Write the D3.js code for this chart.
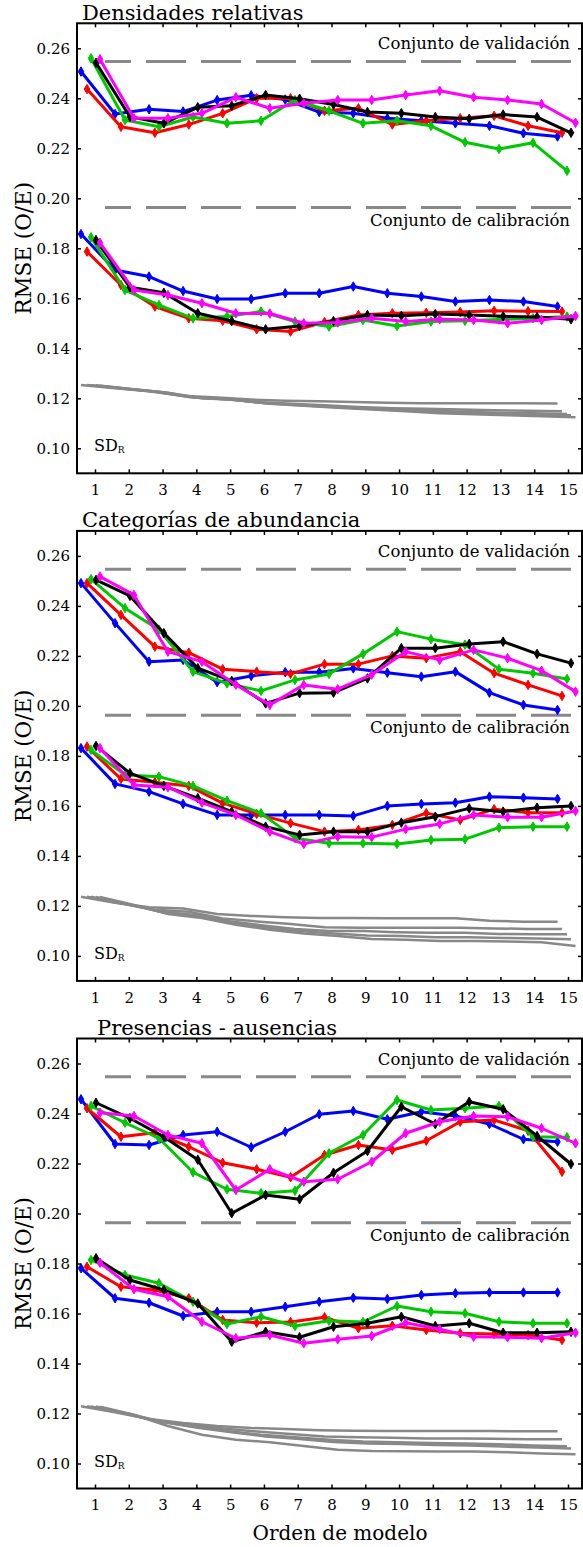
<!DOCTYPE html>
<html>
<head>
<meta charset="utf-8">
<script src="https://cdn.jsdelivr.net/npm/d3@7"></script>
<style>
body { margin: 0; background: #fff; }
svg { display: block; }
</style>
</head>
<body>
<div id="chart"></div>
<script>
// Model orders on the x axis
var models = d3.range(1, 16);
var yTicks = [0.10, 0.12, 0.14, 0.16, 0.18, 0.20, 0.22, 0.24, 0.26];
var panelTitles = ["Densidades relativas", "Categorías de abundancia", "Presencias - ausencias"];
var refValidation = 0.2547;
var refCalibration = 0.1963;

// series order: blue, red, green, black, magenta
var valDens = [
  [0.2507,0.2337,0.2356,0.2347,0.2393,0.2412,0.2395,0.2345,0.2340,0.2320,0.2310,0.2300,0.2290,0.2260,0.2247],
  [0.2437,0.2286,0.2262,0.2295,0.2340,0.2400,0.2400,0.2350,0.2360,0.2295,0.2310,0.2320,0.2330,0.2290,0.2262],
  [0.2560,0.2313,0.2286,0.2325,0.2300,0.2310,0.2393,0.2350,0.2300,0.2310,0.2290,0.2224,0.2197,0.2222,0.2110],
  [0.2542,0.2326,0.2300,0.2364,0.2370,0.2413,0.2398,0.2375,0.2345,0.2340,0.2325,0.2318,0.2335,0.2325,0.2262],
  [0.2556,0.2320,0.2320,0.2340,0.2404,0.2360,0.2380,0.2393,0.2393,0.2413,0.2430,0.2404,0.2393,0.2377,0.2302]
];
var calDens = [
  [0.1857,0.1713,0.1687,0.1629,0.1597,0.1597,0.1620,0.1620,0.1647,0.1620,0.1607,0.1587,0.1593,0.1587,0.1567],
  [0.1787,0.1653,0.1567,0.1520,0.1510,0.1476,0.1467,0.1505,0.1533,0.1540,0.1542,0.1545,0.1550,0.1548,0.1547],
  [0.1844,0.1633,0.1573,0.1520,0.1527,0.1547,0.1507,0.1487,0.1513,0.1489,0.1507,0.1510,0.1515,0.1520,0.1527],
  [0.1833,0.1644,0.1622,0.1540,0.1509,0.1476,0.1489,0.1509,0.1533,0.1530,0.1537,0.1533,0.1528,0.1525,0.1516],
  [0.1822,0.1633,0.1613,0.1580,0.1540,0.1539,0.1500,0.1503,0.1520,0.1507,0.1516,0.1513,0.1500,0.1513,0.1529]
];
var sdDens = [
  [0.1253,0.1240,0.1228,0.1210,0.1203,0.1195,0.1190,0.1188,0.1185,0.1182,0.1180,0.1180,0.1180,0.1180,0.1179],
  [0.1253,0.1240,0.1226,0.1205,0.1198,0.1185,0.1178,0.1172,0.1165,0.1160,0.1158,0.1155,0.1152,0.1150,0.1148],
  [0.1252,0.1238,0.1225,0.1203,0.1196,0.1182,0.1175,0.1168,0.1160,0.1155,0.1150,0.1146,0.1142,0.1140,0.1137],
  [0.1252,0.1237,0.1224,0.1202,0.1195,0.1180,0.1172,0.1165,0.1158,0.1152,0.1146,0.1142,0.1138,0.1135,0.1132],
  [0.1250,0.1236,0.1222,0.1200,0.1193,0.1178,0.1170,0.1162,0.1155,0.1148,0.1140,0.1136,0.1132,0.1128,0.1124]
];

var valCat = [
  [0.2491,0.2331,0.2177,0.2184,0.2095,0.2120,0.2135,0.2135,0.2150,0.2133,0.2117,0.2137,0.2053,0.2004,0.1984],
  [0.2491,0.2364,0.2237,0.2213,0.2147,0.2137,0.2128,0.2167,0.2167,0.2200,0.2191,0.2217,0.2131,0.2084,0.2040],
  [0.2507,0.2391,0.2305,0.2137,0.2090,0.2060,0.2104,0.2128,0.2208,0.2297,0.2267,0.2245,0.2147,0.2131,0.2108],
  [0.2504,0.2440,0.2291,0.2151,0.2100,0.2010,0.2051,0.2053,0.2110,0.2231,0.2231,0.2248,0.2257,0.2208,0.2171],
  [0.2517,0.2444,0.2217,0.2177,0.2085,0.2004,0.2084,0.2067,0.2125,0.2217,0.2184,0.2224,0.2191,0.2141,0.2057]
];
var calCat = [
  [0.1831,0.1688,0.1657,0.1608,0.1564,0.1564,0.1564,0.1564,0.1560,0.1600,0.1608,0.1613,0.1637,0.1633,0.1628],
  [0.1837,0.1708,0.1695,0.1680,0.1611,0.1568,0.1531,0.1497,0.1504,0.1524,0.1571,0.1544,0.1587,0.1573,0.1573],
  [0.1824,0.1724,0.1717,0.1680,0.1621,0.1571,0.1471,0.1451,0.1451,0.1448,0.1464,0.1467,0.1513,0.1517,0.1517],
  [0.1840,0.1731,0.1680,0.1631,0.1577,0.1517,0.1484,0.1497,0.1497,0.1533,0.1557,0.1590,0.1577,0.1593,0.1600],
  [0.1831,0.1684,0.1675,0.1613,0.1564,0.1497,0.1448,0.1477,0.1475,0.1507,0.1528,0.1564,0.1555,0.1555,0.1580]
];
var sdCat = [
  [0.1237,0.1213,0.1195,0.1190,0.1168,0.1160,0.1155,0.1152,0.1152,0.1151,0.1151,0.1151,0.1141,0.1137,0.1137],
  [0.1237,0.1210,0.1185,0.1177,0.1150,0.1138,0.1128,0.1115,0.1113,0.1113,0.1113,0.1113,0.1110,0.1108,0.1108],
  [0.1237,0.1208,0.1178,0.1165,0.1140,0.1123,0.1108,0.1100,0.1100,0.1095,0.1093,0.1093,0.1088,0.1087,0.1087],
  [0.1236,0.1206,0.1172,0.1158,0.1132,0.1115,0.1100,0.1090,0.1082,0.1080,0.1075,0.1075,0.1072,0.1070,0.1067],
  [0.1236,0.1204,0.1168,0.1152,0.1125,0.1105,0.1090,0.1080,0.1068,0.1065,0.1060,0.1060,0.1058,0.1055,0.1040]
];

var valPres = [
  [0.2457,0.2278,0.2274,0.2314,0.2327,0.2265,0.2327,0.2397,0.2410,0.2377,0.2407,0.2390,0.2358,0.2297,0.2287],
  [0.2421,0.2307,0.2323,0.2267,0.2203,0.2177,0.2145,0.2234,0.2274,0.2254,0.2291,0.2367,0.2374,0.2331,0.2167],
  [0.2430,0.2363,0.2301,0.2165,0.2097,0.2081,0.2091,0.2241,0.2314,0.2454,0.2414,0.2421,0.2430,0.2307,0.2305],
  [0.2443,0.2381,0.2307,0.2215,0.2001,0.2074,0.2057,0.2163,0.2250,0.2427,0.2358,0.2447,0.2417,0.2310,0.2198],
  [0.2403,0.2390,0.2314,0.2281,0.2094,0.2177,0.2127,0.2137,0.2207,0.2321,0.2367,0.2390,0.2387,0.2341,0.2281]
];
var calPres = [
  [0.1781,0.1661,0.1643,0.1590,0.1607,0.1607,0.1627,0.1647,0.1663,0.1658,0.1674,0.1681,0.1684,0.1684,0.1684],
  [0.1787,0.1707,0.1694,0.1661,0.1574,0.1563,0.1566,0.1585,0.1541,0.1551,0.1534,0.1521,0.1518,0.1514,0.1494],
  [0.1814,0.1754,0.1721,0.1647,0.1558,0.1587,0.1550,0.1571,0.1566,0.1630,0.1607,0.1601,0.1567,0.1561,0.1561],
  [0.1821,0.1734,0.1694,0.1640,0.1487,0.1527,0.1505,0.1547,0.1561,0.1587,0.1550,0.1561,0.1523,0.1523,0.1527],
  [0.1803,0.1697,0.1667,0.1567,0.1501,0.1514,0.1481,0.1497,0.1510,0.1563,0.1537,0.1507,0.1505,0.1501,0.1523]
];
var sdPres = [
  [0.1229,0.1205,0.1178,0.1162,0.1150,0.1142,0.1138,0.1133,0.1131,0.1130,0.1130,0.1130,0.1130,0.1129,0.1129],
  [0.1229,0.1203,0.1173,0.1155,0.1140,0.1128,0.1118,0.1108,0.1105,0.1103,0.1100,0.1100,0.1099,0.1097,0.1097],
  [0.1228,0.1200,0.1168,0.1148,0.1130,0.1115,0.1105,0.1095,0.1088,0.1085,0.1082,0.1080,0.1077,0.1072,0.1069],
  [0.1228,0.1198,0.1165,0.1143,0.1125,0.1108,0.1098,0.1086,0.1080,0.1078,0.1074,0.1072,0.1068,0.1064,0.1060],
  [0.1227,0.1195,0.1150,0.1115,0.1095,0.1085,0.1070,0.1055,0.1050,0.1049,0.1048,0.1048,0.1045,0.1040,0.1037]
];

// Styling
var colors = ["#0000ff", "#ff0000", "#00c800", "#000000", "#ff00ff"];
var dodge = [[-14, -10.5], [-8, -6], [-4, -1], [1, 3], [5, 7.5]]; // px shift at model 1 / 15
var font = "'DejaVu Serif', serif";
var W = 583, H = 1547;
var left = 77, right = 582;

var svg = d3.select("#chart").append("svg")
    .attr("width", W)
    .attr("height", H);

var panels = [
  {title: panelTitles[0], val: valDens, cal: calDens, sd: sdDens, titleX: 82},
  {title: panelTitles[1], val: valCat, cal: calCat, sd: sdCat, titleX: 82},
  {title: panelTitles[2], val: valPres, cal: calPres, sd: sdPres, titleX: 97}
];

var x = d3.scaleLinear().domain([1, 15]).range([95, 568]);

function styleAxis(g) {
    g.select(".domain").remove();
    g.selectAll(".tick line").attr("stroke", "#000").attr("stroke-width", 1.5);
    g.selectAll("text").attr("font-family", font).attr("font-size", 15).attr("fill", "#000");
}

panels.forEach(function(p, k) {
    var bottom = 473.3 + 507.6 * k;
    var top = bottom - 450;
    var y = d3.scaleLinear().domain([0.09, 0.27]).range([bottom, top]);
    var g = svg.append("g");

    // Gray SD lines
    p.sd.forEach(function(s, si) {
        var xs = d3.scaleLinear().domain([1, 15]).range([x(1) + dodge[si][0], x(15) + dodge[si][1]]);
        g.append("path")
            .datum(s)
            .attr("fill", "none")
            .attr("stroke", "#888")
            .attr("stroke-width", 2.5)
            .attr("stroke-linejoin", "round")
            .attr("d", d3.line().x(function(d, i) { return xs(models[i]); }).y(function(d) { return y(d); }));
    });

    // Reference dashed lines
    [refValidation, refCalibration].forEach(function(v) {
        g.append("line")
            .attr("x1", 571).attr("x2", 105)
            .attr("y1", y(v)).attr("y2", y(v))
            .attr("stroke", "#888")
            .attr("stroke-width", 3)
            .attr("stroke-dasharray", "40,15");
    });

    // Coloured series
    [p.cal, p.val].forEach(function(set) {
        set.forEach(function(s, si) {
            var xs = d3.scaleLinear().domain([1, 15]).range([x(1) + dodge[si][0], x(15) + dodge[si][1]]);
            var sg = g.append("g");
            sg.append("path")
                .datum(s)
                .attr("fill", "none")
                .attr("stroke", colors[si])
                .attr("stroke-width", 3)
                .attr("stroke-linejoin", "round")
                .attr("d", d3.line().x(function(d, i) { return xs(models[i]); }).y(function(d) { return y(d); }));
            sg.selectAll("path.pt")
                .data(s)
                .enter().append("path")
                .attr("class", "pt")
                .attr("transform", function(d, i) { return "translate(" + xs(models[i]) + "," + y(d) + ")"; })
                .attr("d", d3.symbol(d3.symbolDiamond, 26))
                .attr("fill", colors[si])
                .attr("stroke", colors[si])
                .attr("stroke-width", 1);
        });
    });

    // Frame and axes
    g.append("rect")
        .attr("x", left).attr("y", top)
        .attr("width", right - left).attr("height", bottom - top)
        .attr("fill", "none")
        .attr("stroke", "#000")
        .attr("stroke-width", 2);

    g.append("g").attr("transform", "translate(" + left + ",0)")
        .call(d3.axisLeft(y).tickValues(yTicks).tickFormat(d3.format(".2f")).tickSizeInner(-4).tickSizeOuter(0).tickPadding(7))
        .call(styleAxis);
    g.append("g").attr("transform", "translate(" + right + ",0)")
        .call(d3.axisRight(y).tickValues(yTicks).tickFormat("").tickSizeInner(-4).tickSizeOuter(0))
        .call(styleAxis);
    g.append("g").attr("transform", "translate(0," + bottom + ")")
        .call(d3.axisBottom(x).tickValues(models).tickFormat(d3.format("d")).tickSizeInner(-4).tickSizeOuter(0).tickPadding(11))
        .call(styleAxis);
    g.append("g").attr("transform", "translate(0," + top + ")")
        .call(d3.axisTop(x).tickValues(models).tickFormat("").tickSizeInner(-4).tickSizeOuter(0))
        .call(styleAxis);

    // Texts
    g.append("text")
        .attr("x", p.titleX).attr("y", top - 3.5)
        .attr("font-family", font).attr("font-size", 21)
        .text(p.title);
    g.append("text")
        .attr("x", 570).attr("y", y(0.2596))
        .attr("text-anchor", "end")
        .attr("font-family", font).attr("font-size", 16.5)
        .text("Conjunto de validación");
    g.append("text")
        .attr("x", 570).attr("y", y(0.1890))
        .attr("text-anchor", "end")
        .attr("font-family", font).attr("font-size", 16.5)
        .text("Conjunto de calibración");
    var sdt = g.append("text")
        .attr("x", 94).attr("y", y(0.0988))
        .attr("font-family", font).attr("font-size", 16);
    sdt.append("tspan").text("SD");
    sdt.append("tspan").attr("font-size", 9).attr("dy", 2).text("R");

    g.append("text")
        .attr("transform", "translate(31," + ((top + bottom) / 2) + ") rotate(-90)")
        .attr("text-anchor", "middle")
        .attr("font-family", font).attr("font-size", 21.5)
        .text("RMSE (O/E)");
});

svg.append("text")
    .attr("x", 340).attr("y", 1540)
    .attr("text-anchor", "middle")
    .attr("font-family", font).attr("font-size", 20)
    .text("Orden de modelo");
</script>
</body>
</html>
